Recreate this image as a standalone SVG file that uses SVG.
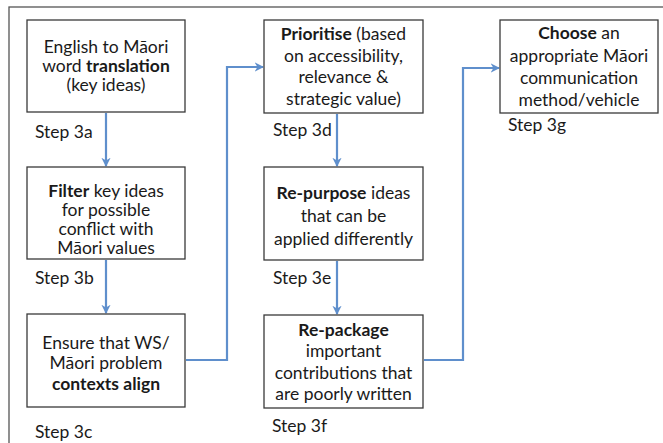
<svg xmlns="http://www.w3.org/2000/svg" width="663" height="443" viewBox="0 0 663 443">
<style>
  .box { fill: #ffffff; stroke: #3a3a3a; stroke-width: 1.3; }
  .frame { fill: none; stroke: #555555; stroke-width: 1.3; }
  text { font-family: Lato, "Open Sans", "Liberation Sans", sans-serif; font-size: 17.5px; fill: #1a1a1a; }
  .c { text-anchor: middle; }
  .b { font-weight: bold; }
  .conn { fill: none; stroke: #5f8fcc; stroke-width: 2.2; }
</style>
<defs>
  <marker id="ah" viewBox="0 0 10 10" refX="9" refY="5" markerWidth="4.2" markerHeight="4.2" orient="auto" markerUnits="strokeWidth">
    <path d="M0,0 L10,5 L0,10 L3,5 Z" fill="#5f8fcc"/>
  </marker>
</defs>
<rect width="663" height="443" fill="#ffffff"/>
<rect class="frame" x="9" y="7" width="700" height="480"/>

<g id="connectors">
  <line class="conn" x1="106" y1="113" x2="106" y2="166" marker-end="url(#ah)"/>
  <line class="conn" x1="106" y1="260" x2="106" y2="313" marker-end="url(#ah)"/>
  <polyline class="conn" points="186,360 227,360 227,67 263,67" marker-end="url(#ah)"/>
  <line class="conn" x1="337" y1="114" x2="337" y2="166" marker-end="url(#ah)"/>
  <line class="conn" x1="337" y1="261" x2="337" y2="314" marker-end="url(#ah)"/>
  <polyline class="conn" points="424,360 463,360 463,68 499,68" marker-end="url(#ah)"/>
</g>

<g id="step3a">
  <rect class="box" x="27" y="20" width="158" height="92"/>
  <text class="c" x="106" y="53">English to Māori</text>
  <text class="c" x="106" y="72">word <tspan class="b">translation</tspan></text>
  <text class="c" x="106" y="91">(key ideas)</text>
  <text x="35" y="138">Step 3a</text>
</g>

<g id="step3b">
  <rect class="box" x="27" y="167" width="158" height="92"/>
  <text class="c" x="106" y="197"><tspan class="b">Filter</tspan> key ideas</text>
  <text class="c" x="106" y="216">for possible</text>
  <text class="c" x="106" y="235">conflict with</text>
  <text class="c" x="106" y="254">Māori values</text>
  <text x="35" y="284">Step 3b</text>
</g>

<g id="step3c">
  <rect class="box" x="27" y="314" width="158" height="93"/>
  <text class="c" x="106" y="349">Ensure that WS/</text>
  <text class="c" x="106" y="369">Māori problem</text>
  <text class="c" x="106" y="390" font-weight="bold">contexts align</text>
  <text x="35" y="438">Step 3c</text>
</g>

<g id="step3d">
  <rect class="box" x="264" y="20" width="159" height="93"/>
  <text class="c" x="343.5" y="40"><tspan class="b">Prioritise</tspan> (based</text>
  <text class="c" x="343.5" y="62">on accessibility,</text>
  <text class="c" x="343.5" y="83">relevance &amp;</text>
  <text class="c" x="343.5" y="105">strategic value)</text>
  <text x="273" y="136">Step 3d</text>
</g>

<g id="step3e">
  <rect class="box" x="264" y="167" width="159" height="93"/>
  <text class="c" x="343.5" y="199"><tspan class="b">Re-purpose</tspan> ideas</text>
  <text class="c" x="343.5" y="222">that can be</text>
  <text class="c" x="343.5" y="245">applied differently</text>
  <text x="273" y="284">Step 3e</text>
</g>

<g id="step3f">
  <rect class="box" x="264" y="315" width="159" height="93"/>
  <text class="c b" x="343.5" y="336">Re-package</text>
  <text class="c" x="343.5" y="357">important</text>
  <text class="c" x="343.5" y="379">contributions that</text>
  <text class="c" x="343.5" y="400">are poorly written</text>
  <text x="272" y="432">Step 3f</text>
</g>

<g id="step3g">
  <rect class="box" x="500" y="20" width="158" height="93"/>
  <text class="c" x="579" y="39"><tspan class="b">Choose</tspan> an</text>
  <text class="c" x="579" y="62">appropriate Māori</text>
  <text class="c" x="579" y="84">communication</text>
  <text class="c" x="579" y="106">method/vehicle</text>
  <text x="508" y="131">Step 3g</text>
</g>
</svg>
